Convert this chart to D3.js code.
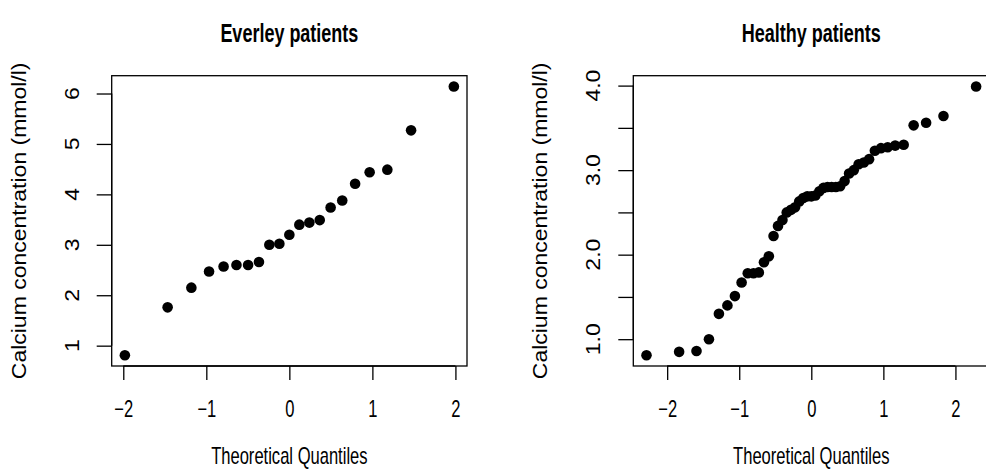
<!DOCTYPE html>
<html>
<head>
<meta charset="utf-8">
<script src="https://cdn.jsdelivr.net/npm/d3@7"></script>
<style>
  body { margin: 0; background: #fff; }
  svg { display: block; }
  text { font-family: "Liberation Sans", Arial, sans-serif; fill: #000; }
</style>
</head>
<body>
<div id="chart"></div>
<script>
// theoretical normal quantiles and sorted calcium values
const everleyQuantiles = [-1.981, -1.466, -1.180, -0.967, -0.792, -0.637, -0.497, -0.366, -0.241, -0.120, 0,
    0.120, 0.241, 0.366, 0.497, 0.637, 0.792, 0.967, 1.180, 1.466, 1.981];
const everleyCalcium = [0.81, 1.76, 2.15, 2.47, 2.57, 2.60, 2.60, 2.66, 3.00, 3.02, 3.20,
    3.40, 3.44, 3.49, 3.74, 3.88, 4.21, 4.44, 4.49, 5.27, 6.14];

const healthyQuantiles = [-2.287, -1.834, -1.593, -1.420, -1.282, -1.164, -1.060, -0.967, -0.882, -0.802,
    -0.728, -0.657, -0.589, -0.524, -0.462, -0.400, -0.341, -0.282, -0.225, -0.168, -0.112, -0.056, 0,
    0.056, 0.112, 0.168, 0.225, 0.282, 0.341, 0.400, 0.462, 0.524, 0.589, 0.657, 0.728, 0.802,
    0.882, 0.967, 1.060, 1.164, 1.282, 1.420, 1.593, 1.834, 2.287];
const healthyCalcium = [0.81, 0.85, 0.86, 1.00, 1.30, 1.40, 1.51, 1.67, 1.78, 1.78,
    1.79, 1.91, 1.98, 2.22, 2.34, 2.41, 2.50, 2.53, 2.56, 2.63, 2.67, 2.69, 2.69,
    2.70, 2.75, 2.79, 2.80, 2.80, 2.80, 2.81, 2.87, 2.96, 3.00, 3.07, 3.09, 3.13,
    3.23, 3.26, 3.27, 3.29, 3.30, 3.53, 3.56, 3.64, 3.99];

const xTicks = [-2, -1, 0, 1, 2];
const everleyYTicks = [1, 2, 3, 4, 5, 6];
const healthyYTicks = [1, 1.5, 2, 2.5, 3, 3.5, 4];
const healthyYLabels = [1, 2, 3, 4];

const xTitle = 'Theoretical Quantiles';
const yTitle = 'Calcium concentration (mmol/l)';

// the reference text is narrow and tall: horizontal text is squeezed sideways,
// the rotated text a little less across its height
const squeeze = 0.72;
const squeezeRot = 0.85;

class QQPlot {
    constructor(opts) {
        this.svg = opts.svg;
        this.xs = opts.xs;
        this.ys = opts.ys;
        this.left = opts.left;
        this.right = opts.right;
        this.top = 75.7;
        this.bottom = 366;
        this.title = opts.title;
        this.yTicks = opts.yTicks;
        this.yLabels = opts.yLabels || opts.yTicks;
        this.yFormat = opts.yFormat || (d => d);
        this.draw();
    }

    // R pads the data range by 4% on each side
    padded(values) {
        const [lo, hi] = d3.extent(values);
        const pad = (hi - lo) * 0.04;
        return [lo - pad, hi + pad];
    }

    draw() {
        this.xScale = d3.scaleLinear().domain(this.padded(this.xs)).range([this.left, this.right]);
        this.yScale = d3.scaleLinear().domain(this.padded(this.ys)).range([this.bottom, this.top]);

        const g = this.svg.append('g');
        this.g = g;

        g.append('rect')
            .attr('x', this.left).attr('y', this.top)
            .attr('width', this.right - this.left).attr('height', this.bottom - this.top)
            .attr('fill', 'none').attr('stroke', '#000').attr('stroke-width', 1.3);

        g.selectAll('.pt')
            .data(this.xs.map((x, i) => [x, this.ys[i]]))
            .enter()
            .append('circle')
            .attr('cx', d => this.xScale(d[0]))
            .attr('cy', d => this.yScale(d[1]))
            .attr('r', 5.3)
            .attr('fill', '#000');

        this.addAxes();
    }

    addAxes() {
        const g = this.g;
        const cx = (this.left + this.right) / 2;
        const cy = (this.top + this.bottom) / 2;

        const xAxis = d3.axisBottom(this.xScale)
            .tickValues(xTicks)
            .tickSize(14)
            .tickSizeOuter(0)
            .tickFormat(d => d < 0 ? '\u2212' + Math.abs(d) : d);
        const xg = g.append('g')
            .attr('transform', `translate(0,${this.bottom})`)
            .call(xAxis);
        xg.select('.domain')
            .attr('d', `M${this.xScale(xTicks[0])},0H${this.xScale(xTicks[xTicks.length - 1])}`);
        xg.selectAll('.tick text')
            .attr('fill', '#000')
            .attr('font-size', 23)
            .attr('font-family', '"Liberation Sans", Arial, sans-serif')
            .attr('y', 51)
            .attr('dy', null)
            .attr('transform', `scale(${squeeze},1)`);

        const yAxis = d3.axisLeft(this.yScale)
            .tickValues(this.yTicks)
            .tickSize(15)
            .tickSizeOuter(0)
            .tickFormat('');
        const yg = g.append('g')
            .attr('transform', `translate(${this.left},0)`)
            .call(yAxis);
        yg.select('.domain')
            .attr('d', `M0,${this.yScale(this.yTicks[0])}V${this.yScale(this.yTicks[this.yTicks.length - 1])}`);

        g.selectAll('.tick line').attr('stroke', '#000').attr('stroke-width', 1.3);
        g.selectAll('.domain').attr('stroke', '#000').attr('stroke-width', 1.3);

        // y tick labels run parallel to the axis, as R draws them
        g.selectAll('.ylab')
            .data(this.yLabels)
            .enter()
            .append('text')
            .attr('transform', d => `translate(${this.left - 33},${this.yScale(d)}) rotate(-90) scale(1,${squeezeRot})`)
            .attr('text-anchor', 'middle')
            .attr('font-size', 23)
            .text(this.yFormat);

        g.append('text')
            .attr('transform', `translate(${cx},42) scale(${squeeze},1)`)
            .attr('text-anchor', 'middle')
            .attr('font-size', 25)
            .attr('font-weight', 'bold')
            .text(this.title);

        g.append('text')
            .attr('transform', `translate(${cx},464) scale(${squeeze},1)`)
            .attr('text-anchor', 'middle')
            .attr('font-size', 23)
            .text(xTitle);

        g.append('text')
            .attr('transform', `translate(${this.left - 86},${cy}) rotate(-90) scale(1,${squeezeRot})`)
            .attr('text-anchor', 'middle')
            .attr('font-size', 23)
            .text(yTitle);
    }
}

const svg = d3.select('#chart').append('svg')
    .attr('width', 986)
    .attr('height', 470);

new QQPlot({
    svg: svg,
    xs: everleyQuantiles,
    ys: everleyCalcium,
    left: 111.7,
    right: 467,
    title: 'Everley patients',
    yTicks: everleyYTicks
});

new QQPlot({
    svg: svg,
    xs: healthyQuantiles,
    ys: healthyCalcium,
    left: 633.3,
    right: 989.3,
    title: 'Healthy patients',
    yTicks: healthyYTicks,
    yLabels: healthyYLabels,
    yFormat: d => d.toFixed(1)
});
</script>
</body>
</html>
